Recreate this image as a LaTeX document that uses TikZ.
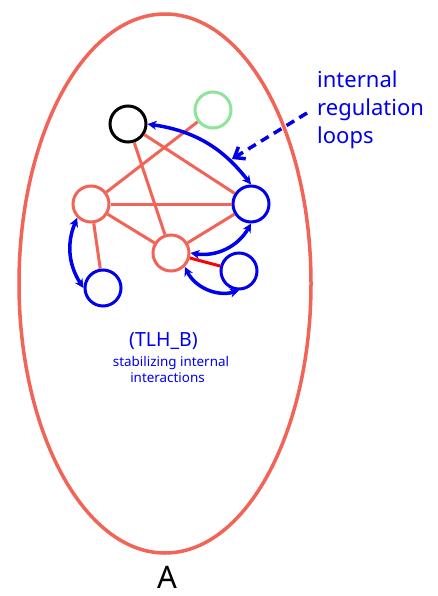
\documentclass[tikz,border=0pt]{standalone}
\usepackage{fontspec}
\setmainfont{Noto Sans}
\usetikzlibrary{arrows.meta}
\definecolor{salmon}{HTML}{F26457}
\definecolor{mint}{HTML}{8EE59A}
\definecolor{regblue}{HTML}{0000EE}
\tikzset{
  unit/.style={circle, draw, line width=3pt, minimum size=36pt, inner sep=0pt},
  link/.style={draw=salmon, line width=3pt},
  loop/.style={draw=regblue, line width=3.5pt, {Stealth[length=9pt,width=9pt]}-{Stealth[length=9pt,width=9pt]}},
  bluetext/.style={regblue, inner sep=0pt},
}
\begin{document}
\begin{tikzpicture}[x=1pt,y=-1pt]
\useasboundingbox (0,0) rectangle (437,596);
\fill[white] (0,0) rectangle (437,596);
% enclosing system
\draw[salmon, line width=3.5pt] (165,283.5) ellipse [x radius=146, y radius=269.5];
% units
\node[unit, draw=black] (k) at (128,124) {};
\node[unit, draw=mint] (g) at (213,110) {};
\node[unit, draw=salmon] (l) at (91,204) {};
\node[unit, draw=regblue] (r) at (251,204) {};
\node[unit, draw=salmon] (m) at (171,253) {};
\node[unit, draw=regblue] (br) at (239,271) {};
\node[unit, draw=regblue] (bl) at (103,288) {};
% internal links
\draw[link] (k) -- (r);
\draw[link] (k) -- (m);
\draw[link] (g) -- (l);
\draw[link] (l) -- (r);
\draw[link] (l) -- (m);
\draw[link] (l) -- (bl);
\draw[link] (m) -- (r);
\draw[red, line width=3pt] (m) -- (br);
% regulation loops
\draw[loop] (k.east) to[bend left=22] (r.north);
\draw[loop] (l.south west) to[bend right=28] (bl.west);
\draw[loop] (m.east) to[bend right=35] (r.south);
\draw[loop] (m.south east) to[bend right=40] (br.south);
% annotation
\coordinate (ann) at (307,113);
\coordinate (tip) at (232,159);
\draw[regblue, line width=3.5pt, dash pattern=on 9pt off 6pt, -{Straight Barb[length=9pt,width=14pt]}] (ann) -- (tip);
\node[bluetext, font=\fontsize{22}{27}\selectfont, anchor=base west] (l1) at (317,88) {internal};
\node[bluetext, font=\fontsize{22}{27}\selectfont, anchor=base west] (l2) at (317,115.5) {regulation};
\node[bluetext, font=\fontsize{22}{27}\selectfont, anchor=base west] (l3) at (317,143) {loops};
\node[bluetext, font=\fontsize{19.5}{23}\selectfont, anchor=base] (tlh) at (163.5,346) {(TLH\_B)};
\node[bluetext, font=\fontsize{13.4}{16}\selectfont, anchor=base] (s1) at (171,366) {stabilizing internal};
\node[bluetext, font=\fontsize{13.4}{16}\selectfont, anchor=base] (s2) at (167.5,382) {interactions};
\node[black, inner sep=0pt, font=\fontsize{31}{36}\selectfont, anchor=base] (a) at (167.5,588) {A};
\end{tikzpicture}
\end{document}
